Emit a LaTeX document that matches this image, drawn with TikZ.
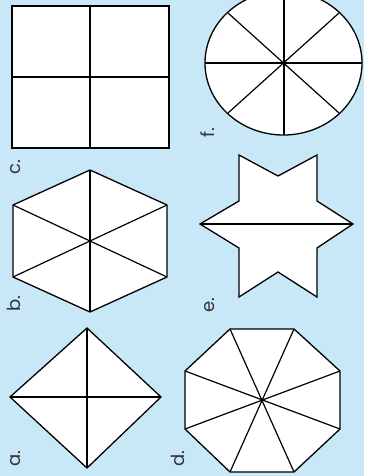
\documentclass[tikz,border=0pt]{standalone}
\usepackage{fontspec}
\setmainfont{Poppins}
\definecolor{bgblue}{HTML}{C8E8F8}
\definecolor{labgray}{HTML}{333333}
\begin{document}
\begin{tikzpicture}[x=1pt,y=-1pt,
  shapeline/.style={draw=black,line width=1.3pt,fill=white,line join=miter},
  thinline/.style={draw=black,line width=1.2pt},
  thickline/.style={draw=black,line width=2pt},
  lab/.style={rotate=90,text=labgray,font=\fontsize{18}{18}\selectfont,inner sep=0pt}]
\useasboundingbox (0,0) rectangle (364,476);
\clip (0,0) rectangle (364,476);
\fill[bgblue] (0,0) rectangle (364,476);

% c. square
\draw[shapeline] (12,6) rectangle (169,148);
\draw[thinline] (12,77) -- (169,77);
\draw[thickline] (90,6) -- (90,148);

% f. ellipse
\coordinate (fc) at (283.5,63);
\draw[shapeline] (fc) ellipse [x radius=78.5, y radius=72];
\draw[thinline] (205,63) -- (362,63);
\draw[thinline] (228,13) -- (339,113);
\draw[thinline] (228,113) -- (339,13);
\draw[thickline] (283.5,-9) -- (283.5,135);

% b. hexagon
\coordinate (bc) at (90,241);
\draw[shapeline] (90,170) -- (167,205) -- (167,277) -- (90,312) -- (13,277) -- (13,205) -- cycle;
\draw[thinline] (13,205) -- (167,277);
\draw[thinline] (13,277) -- (167,205);
\draw[thickline] (90,170) -- (90,312);

% e. star
\draw[shapeline] (239,155) -- (278,176) -- (317,155) -- (317,201) -- (353,224) -- (317,248) -- (317,297) -- (278,272) -- (239,297) -- (239,248) -- (200,224) -- (239,201) -- cycle;
\draw[thinline] (200,224) -- (353,224);

% a. rhombus
\draw[shapeline] (87,328) -- (161,397) -- (87,468) -- (10,397) -- cycle;
\draw[thinline] (10,397) -- (161,397);
\draw[thickline] (87,328) -- (87,468);

% d. octagon
\coordinate (dc) at (262,400);
\draw[shapeline] (230,329) -- (294,329) -- (340,371) -- (340,429) -- (294,472) -- (230,472) -- (185,429) -- (185,371) -- cycle;
\draw[thinline] (230,329) -- (294,472);
\draw[thinline] (294,329) -- (230,472);
\draw[thinline] (340,371) -- (185,429);
\draw[thinline] (340,429) -- (185,371);

% labels
\node[lab] (la) at (16,459) {a.};
\node[lab] (lb) at (14,304) {b.};
\node[lab] (lc) at (16,167) {c.};
\node[lab] (ld) at (178,459) {d.};
\node[lab] (le) at (210,305) {e.};
\node[lab] (lf) at (208,133) {f.};
\end{tikzpicture}
\end{document}
